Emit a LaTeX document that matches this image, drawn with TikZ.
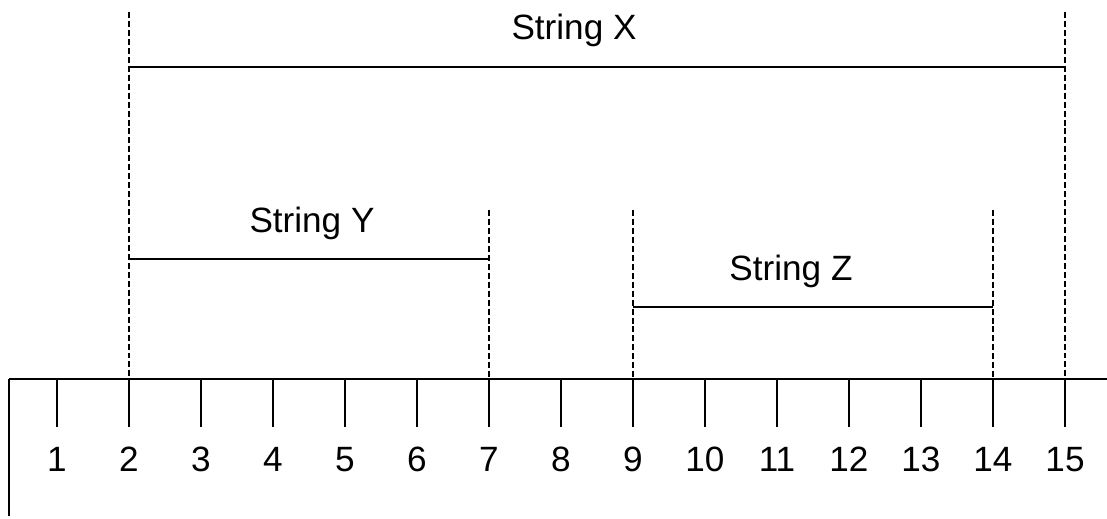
\documentclass[tikz,border=0pt]{standalone}
\usepackage{fontspec}
\setmainfont{Liberation Sans}
\usetikzlibrary{positioning}

\begin{document}
\begin{tikzpicture}[x=0.02cm,y=-0.02cm,line width=1.1pt,
    lbl/.style={font=\fontsize{20}{24}\selectfont,anchor=base,inner sep=0pt},
    guide/.style={dash pattern=on 3.4pt off 1.7pt}]
        \useasboundingbox (0,0) rectangle (1107,518);
        % axis
        \coordinate (axl) at (9,379);
        \coordinate (axr) at (1107,379);
        \coordinate (axb) at (9,516);
        \draw (axl) -- (axr);
        \draw (axl) -- (axb);
        \foreach \i in {1,...,15} {
          \coordinate (t\i) at ({57+(\i-1)*72},379);
          \coordinate (b\i) at ({57+(\i-1)*72},427);
          \draw (t\i) -- (b\i);
          \node[lbl] (n\i) at ({57+(\i-1)*72},471) {\i};
        }
        % string X
        \coordinate (xa) at (129,12);
        \coordinate (xb) at (1065,12);
        \draw[guide] (xa) -- (t2);
        \draw[guide] (xb) -- (t15);
        \draw (129,67) coordinate (xl) -- (1065,67) coordinate (xr);
        \node[lbl] (strx) at (574,39) {String X};
        % string Y
        \coordinate (ya) at (489,210);
        \draw[guide] (ya) -- (t7);
        \draw (129,259) coordinate (yl) -- (489,259) coordinate (yr);
        \node[lbl] (stry) at (312,232) {String Y};
        % string Z
        \coordinate (za) at (633,210);
        \coordinate (zb) at (993,210);
        \draw[guide] (za) -- (t9);
        \draw[guide] (zb) -- (t14);
        \draw (633,307) coordinate (zl) -- (993,307) coordinate (zr);
        \node[lbl] (strz) at (791,280) {String Z};
      \end{tikzpicture}
\end{document}
